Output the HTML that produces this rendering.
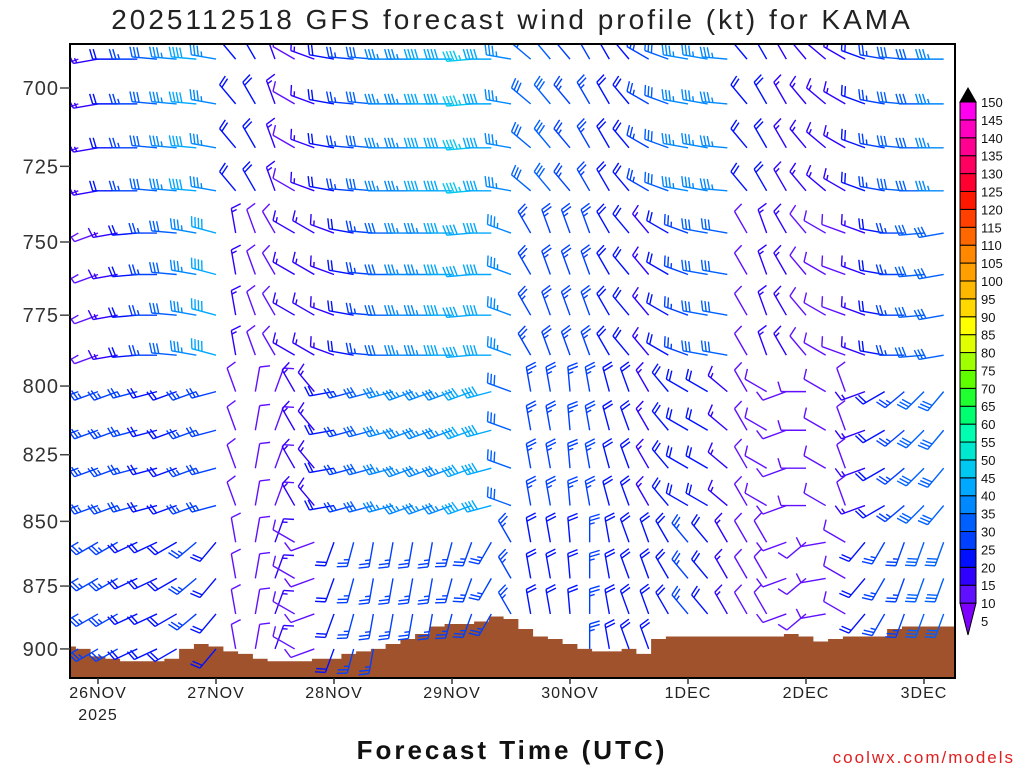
<!DOCTYPE html>
<html><head><meta charset="utf-8"><style>
html,body{margin:0;padding:0;background:#fff;}
body{width:1024px;height:768px;overflow:hidden;font-family:"Liberation Sans",sans-serif;}
</style></head><body>
<svg id="chart" width="1024" height="768" xmlns="http://www.w3.org/2000/svg" font-family="Liberation Sans, DejaVu Sans, sans-serif">
<defs><clipPath id="plotclip"><rect x="71" y="45" width="883" height="632"/></clipPath></defs>
<rect width="1024" height="768" fill="#fff"/>
<text x="512" y="29" text-anchor="middle" font-size="28" letter-spacing="3" fill="#222">2025112518 GFS forecast wind profile (kt) for KAMA</text>
<g id="terrain"></g>
<g id="barbs" clip-path="url(#plotclip)"></g>
<rect x="70" y="44" width="885" height="634" fill="none" stroke="#000" stroke-width="2"/>
<g id="yaxis"></g>
<g id="xaxis"></g>
<g id="cbar"></g>
<text x="512" y="759" text-anchor="middle" font-size="26" font-weight="bold" letter-spacing="3" fill="#111">Forecast Time (UTC)</text>
<text x="1015" y="763" text-anchor="end" font-size="17" letter-spacing="2" fill="#e02020">coolwx.com/models</text>
</svg>
<script>
const yTicks=[700,725,750,775,800,825,850,875,900];
const dayLabels=["26NOV","27NOV","28NOV","29NOV","30NOV","1DEC","2DEC","3DEC"];
const levels=[691,705,719,733,747,761,775,789,802,816,830,844,858,872,886,900];
const levelBand=[0,0,0,0,1,1,1,1,2,2,2,2,3,3,3,3];
const colHours=[-4,0,4,8,12,16,20,24,28,32,36,40,44,48,52,56,60,64,68,72,76,80,84,88,92,96,100,104,108,112,116,120,124,128,132,136,140,144,148,152,156,160,164,168,172];
const spdBand0=[10,15,20,25,30,35,40,35, 20,20,15,10,15, 20,25,30,35,35,40,40,45,40,35, 30,30,25,25,20,20, 25,30,35,35,35, 20,20,15,15,15,15, 20,25,30,30,35];
const dirBand0=[250,260,270,270,275,275,275,280, 320,330,340,300,290, 280,275,275,270,270,270,270,265,270,280, 310,320,320,330,330,320, 300,290,280,280,275, 320,330,330,320,310,300, 290,280,275,270,270];
const spdBand1=[10,10,15,20,25,30,35,40, 15,10,10,15,15, 15,20,25,30,35,35,40,40,40,35, 25,25,25,25,20,20, 15,20,25,30,30, 10,15,15,10,10,10, 15,20,25,30,30];
const dirBand1=[240,250,260,265,270,275,280,285, 350,340,330,300,300, 290,280,275,270,270,270,270,265,270,290, 330,340,340,340,330,320, 320,300,290,280,280, 330,340,330,320,300,290, 290,280,270,265,260];
const spdBand2=[25,25,25,25,20,20,25,25, 10,10,10,15,15, 20,25,30,35,35,35,35,40,40,30, 25,25,25,25,20,20, 15,20,20,20,15, 10,10,10,10,10,10, 15,20,25,30,30];
const dirBand2=[250,250,250,255,255,250,250,255, 340,10,20,330,320, 260,255,255,255,250,250,250,250,255,290, 350,350,355,350,345,340, 330,320,300,300,310, 330,300,250,270,300,340, 250,240,230,225,220];
const spdBand3=[25,25,25,20,20,20,25,20, 10,10,15,10,10, 20,25,25,25,25,25,25,25,25,25, 20,20,20,25,20,20, 20,20,25,20,15, 10,10,10,10,10,10, 20,25,25,30,30];
const dirBand3=[240,240,240,245,245,240,230,220, 350,10,20,300,250, 200,195,190,190,190,190,195,200,210,330, 350,350,355,0,350,340, 340,330,320,320,330, 330,330,250,230,260,300, 220,210,200,200,200];
const terrainHours=[-6,-3,0,3,6,9,12,15,18,21,24,27,30,33,36,39,42,45,48,51,54,57,60,63,66,69,72,75,78,81,84,87,90,93,96,99,102,105,108,111,114,117,120,123,126,129,132,135,138,141,144,147,150,153,156,159,162,165,168,171,174];
const terrainP=[899,900,903,904,905,905,905,904,900,898,899,901,902,904,905,905,905,904,904,902,901,900,898,896,894,891,890,890,889,887,888,892,895,896,898,900,901,901,900,902,896,895,895,895,895,895,895,895,895,894,895,897,896,895,895,895,892,891,891,891,891];
const cbarValues=[5,10,15,20,25,30,35,40,45,50,55,60,65,70,75,80,85,90,95,100,105,110,115,120,125,130,135,140,145,150];
const cbarColors=["#8000ff","#6010ff","#3000ff","#0010ff","#0040ff","#0060ff","#0088ff","#00a8ff","#00c8f0","#00e8d0","#00ffb0","#00ff70","#20ff30","#60ff00","#a0ff00","#e0ff00","#ffff00","#ffd800","#ffb800","#ffa000","#ff8800","#ff6800","#ff4000","#ff1800","#ff0030","#ff0060","#ff0090","#ff00c0","#ff00f0"];

const NS="http://www.w3.org/2000/svg";
const X0=70,X1=955,Y0=44,Y1=678;
function xScale(h){return 98+h*118/24;}
function yScale(p){return 88+2232*Math.log(p/700);}
function mk(tag,attrs,parent){const e=document.createElementNS(NS,tag);for(const k in attrs)e.setAttribute(k,attrs[k]);parent.appendChild(e);return e;}
function colorFor(s){let i=0;while(i<cbarColors.length-1&&s>=cbarValues[i+1])i++;return cbarColors[i];}

const tg=document.getElementById('terrain');
let tpath="M"+X0+","+Y1;
for(let i=0;i<terrainHours.length;i++){
  const xa=Math.max(X0,xScale(terrainHours[i]-1.5)),xb=Math.min(X1,xScale(terrainHours[i]+1.5));
  if(xb<=X0||xa>=X1)continue;
  const y=Math.max(Y0,yScale(terrainP[i]));
  tpath+=" L"+xa.toFixed(1)+","+y.toFixed(1)+" L"+xb.toFixed(1)+","+y.toFixed(1);
}
tpath+=" L"+X1+","+Y1+" Z";
const tp=mk('path',{d:tpath,fill:'#a0522d'},tg);



const bg=document.getElementById('barbs');
const spdBands=[spdBand0,spdBand1,spdBand2,spdBand3];
const dirBands=[dirBand0,dirBand1,dirBand2,dirBand3];
function surfaceAt(h){let best=0;for(let i=0;i<terrainHours.length;i++)if(Math.abs(terrainHours[i]-h)<Math.abs(terrainHours[best]-h))best=i;return terrainP[best];}
for(let li=0;li<levels.length;li++){
  for(let ci=0;ci<colHours.length;ci++){
    const p=levels[li];
    if(p>surfaceAt(colHours[ci])+1)continue;
    const s=spdBands[levelBand[li]][ci],dir=dirBands[levelBand[li]][ci];
    const x=xScale(colHours[ci]),y=yScale(p);
    const th=dir*Math.PI/180;const ux=Math.sin(th),uy=-Math.cos(th);
    const px=-uy,py=ux;
    const L=25;const col=colorFor(s);
    const g=mk('g',{stroke:col,'stroke-width':1.4,fill:'none'},bg);
    
    
    mk('line',{x1:x,y1:y,x2:x+ux*L,y2:y+uy*L},g);
    let rem=Math.round(s/5)*5;let pos=L;
    while(rem>=10){const bx=x+ux*pos,by=y+uy*pos;mk('line',{x1:bx,y1:by,x2:bx+px*10+ux*3,y2:by+py*10+uy*3},g);pos-=3.5;rem-=10;}
    if(rem>=5){if(pos===L)pos-=3.5;const bx=x+ux*pos,by=y+uy*pos;mk('line',{x1:bx,y1:by,x2:bx+px*5+ux*1.5,y2:by+py*5+uy*1.5},g);}
  }
}

const ya=document.getElementById('yaxis');
yTicks.forEach(v=>{const y=yScale(v);
  const t=mk('line',{x1:X0-10,y1:y,x2:X0,y2:y,stroke:'#444','stroke-width':1.5},ya);
  
  const l=mk('text',{x:59,y:y+7,'text-anchor':'end','font-size':20,'letter-spacing':1,fill:'#333'},ya);l.textContent=v;
  
});
const xa=document.getElementById('xaxis');
dayLabels.forEach((lab,i)=>{const x=xScale(i*24);
  const t=mk('line',{x1:x,y1:Y1,x2:x,y2:Y1+6,stroke:'#333','stroke-width':1.5},xa);
  
  const l=mk('text',{x:x,y:698,'text-anchor':'middle','font-size':16,'letter-spacing':1,fill:'#222'},xa);l.textContent=lab;
  
});
const yr=mk('text',{x:xScale(0),y:720,'text-anchor':'middle','font-size':16,'letter-spacing':1,fill:'#222'},xa);yr.textContent="2025";


const cb=document.getElementById('cbar');
const cx=960,cw=16,cTop=102,cBot=621,n=cbarColors.length,step=(cBot-cTop)/n;
for(let i=0;i<n;i++){
  const yb=cBot-i*step;
  let el;
  if(i===0){el=mk('polygon',{points:`${cx},${yb-step} ${cx+cw},${yb-step} ${cx+cw/2},${yb+14}`,fill:cbarColors[i],stroke:'#000','stroke-width':1},cb);}
  else{el=mk('rect',{x:cx,y:yb-step,width:cw,height:step,fill:cbarColors[i],stroke:'#000','stroke-width':1},cb);}
  
}
const tri=mk('polygon',{points:`${cx},${cTop} ${cx+cw},${cTop} ${cx+cw/2},${cTop-14}`,fill:'#000',stroke:'#000'},cb);

cbarValues.forEach((v,i)=>{const y=cBot-i*step;
  const l=mk('text',{x:981,y:y+5,'font-size':13,fill:'#111'},cb);l.textContent=v;
  
});
</script>
</body></html>
